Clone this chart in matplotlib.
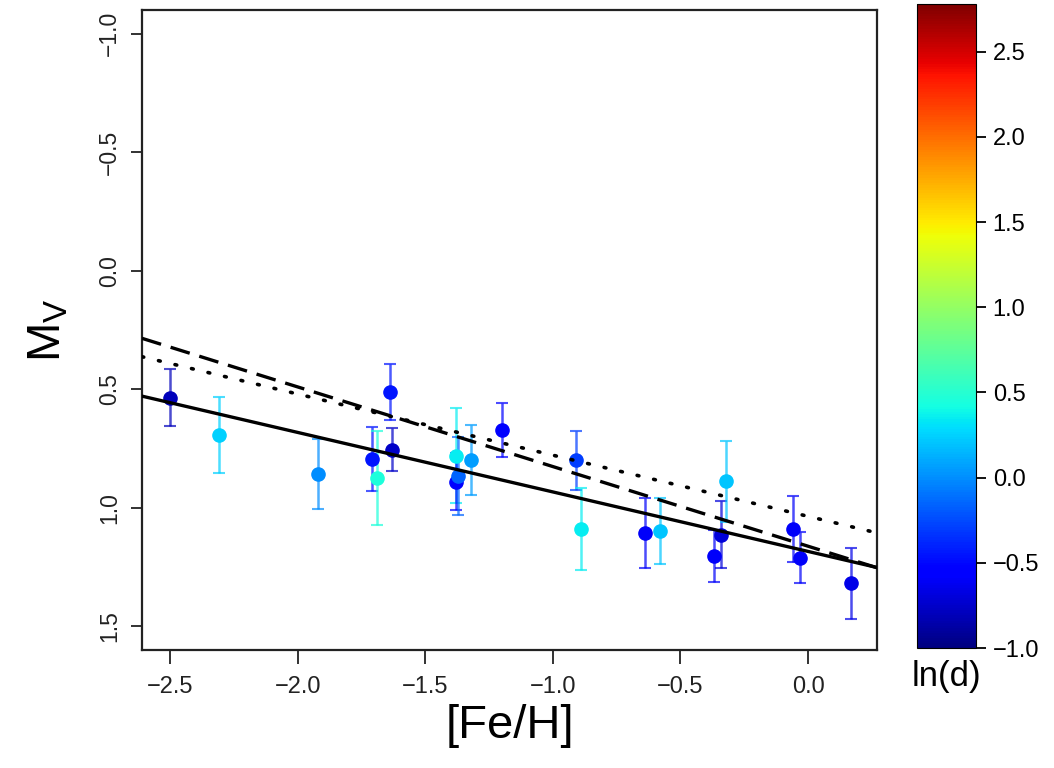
import matplotlib
matplotlib.use("Agg")
import matplotlib.pyplot as plt
import numpy as np
from matplotlib.colors import Normalize
from matplotlib.colorbar import ColorbarBase

plt.rcParams['font.family'] = ['Liberation Sans', 'DejaVu Sans']

# data
feh = [-2.50, -2.31, -1.92, -1.71, -1.69, -1.64, -1.63, -1.38, -1.38, -1.37,
       -1.32, -1.20, -0.91, -0.89, -0.64, -0.58, -0.37, -0.34, -0.32, -0.06,
       -0.03, 0.17]
mv = [0.535, 0.693, 0.857, 0.796, 0.874, 0.512, 0.755, 0.780, 0.890, 0.865,
      0.800, 0.671, 0.800, 1.089, 1.107, 1.099, 1.203, 1.113, 0.888, 1.089,
      1.210, 1.319]
mv_err = [0.12, 0.16, 0.147, 0.135, 0.20, 0.117, 0.09, 0.20, 0.12, 0.165,
          0.148, 0.115, 0.125, 0.172, 0.148, 0.14, 0.11, 0.143, 0.17, 0.14,
          0.107, 0.148]
ln_d = [-0.8, 0.25, 0.0, -0.45, 0.45, -0.45, -0.75, 0.35, -0.55, -0.15,
        0.05, -0.55, -0.3, 0.35, -0.6, 0.2, -0.6, -0.7, 0.2, -0.6,
        -0.6, -0.65]

# relations M_V = a + b*[Fe/H]
fit_solid = (1.184, 0.251)
fit_dashed = (1.162, 0.336)
fit_dotted = (1.036, 0.258)

xlim = (-2.61, 0.27)
ylim = (1.6, -1.1)
cmin, cmax = -1.0, 2.78

fig = plt.figure(figsize=(10.54, 7.68), dpi=100)
ax = fig.add_axes([0.1347, 0.1536, 0.6973, 0.8334])
cax = fig.add_axes([0.870, 0.156, 0.056, 0.839])

cmap = plt.get_cmap('jet')
norm = Normalize(vmin=cmin, vmax=cmax)

for x, y, e, c in zip(feh, mv, mv_err, ln_d):
    col = cmap(norm(c))
    ax.errorbar(x, y, yerr=e, fmt='none', ecolor=col, alpha=0.7,
                elinewidth=1.8, capsize=4, capthick=1.5, zorder=2)
    ax.plot(x, y, 'o', color=col, markersize=9.5, zorder=3)

xx = np.array(xlim)
ax.plot(xx, fit_solid[0] + fit_solid[1] * xx, color='black', lw=2.4, zorder=4)
ax.plot(xx, fit_dashed[0] + fit_dashed[1] * xx, color='black', lw=2.4,
        linestyle=(0, (6, 3)), zorder=4)
ax.plot(xx, fit_dotted[0] + fit_dotted[1] * xx, color='black', lw=2.6,
        linestyle=(0, (0.5, 4.2)), dash_capstyle='round', zorder=4)

ax.set_xlim(*xlim)
ax.set_ylim(*ylim)
ax.set_xticks([-2.5, -2.0, -1.5, -1.0, -0.5, 0.0])
ax.set_xticklabels(['\u22122.5', '\u22122.0', '\u22121.5', '\u22121.0', '\u22120.5', '0.0'])
ax.set_yticks([-1.0, -0.5, 0.0, 0.5, 1.0, 1.5])
ax.set_yticklabels(['\u22121.0', '\u22120.5', '0.0', '0.5', '1.0', '1.5'],
                   rotation=90, va='center')
ax.tick_params(axis='x', direction='out', length=10, width=1.3, labelsize=17,
               pad=9, colors='#222222')
ax.tick_params(axis='y', direction='out', length=8, width=1.3, labelsize=16.5,
               pad=7, colors='#222222')
for s in ax.spines.values():
    s.set_linewidth(1.6)
    s.set_color('#222222')

ax.set_xlabel('[Fe/H]', fontsize=34, labelpad=4)
ax.set_ylabel('M$_\\mathregular{V}$', fontsize=34, labelpad=20)

cb = ColorbarBase(cax, cmap=cmap, norm=norm, orientation='vertical')
cb.set_ticks([-1.0, -0.5, 0.0, 0.5, 1.0, 1.5, 2.0, 2.5])
cb.set_ticklabels(['\u22121.0', '\u22120.5', '0.0', '0.5', '1.0', '1.5', '2.0', '2.5'])
cax.tick_params(direction='out', length=7, width=1.3, labelsize=17, pad=5)
cb.outline.set_linewidth(0.8)
cax.text(0.5, -0.018, 'ln(d)', transform=cax.transAxes, ha='center', va='top',
         fontsize=25)

fig.savefig('out.png', dpi=100)
